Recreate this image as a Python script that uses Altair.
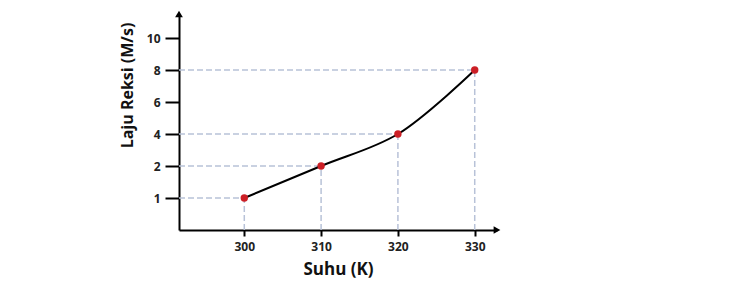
import altair as alt
import pandas as pd

# data
suhu = [300, 310, 320, 330]
laju = [1, 2, 4, 8]
y_tick_labels = [1, 2, 4, 6, 8, 10]
x_tick_values = [300, 310, 320, 330]

X_MIN, X_MAX = 291.5, 332.9
Y_MIN, Y_MAX = -1, 5.75

pos = [y_tick_labels.index(v) for v in laju]
df = pd.DataFrame({"suhu": suhu, "laju": laju, "pos": pos,
                   "x0": [X_MIN] * len(suhu), "y0": [Y_MIN] * len(suhu)})

arrows = pd.DataFrame({"x": [X_MAX, X_MIN], "y": [Y_MIN, Y_MAX],
                       "shape": ["triangle-right", "triangle-up"]})

FONT = "Open Sans"
label_expr = "[" + ",".join("'%s'" % v for v in y_tick_labels) + "][datum.value]"

xscale = alt.Scale(domain=[X_MIN, X_MAX], nice=False, zero=False)
yscale = alt.Scale(domain=[Y_MIN, Y_MAX], nice=False, zero=False)

x_axis = alt.Axis(values=x_tick_values, title="Suhu (K)", grid=False,
                  domainColor="black", domainWidth=2, tickColor="black",
                  tickWidth=2, tickSize=6, labelPadding=5,
                  labelFont=FONT, labelFontWeight="bold", labelFontSize=12,
                  labelColor="#222222", titleFont=FONT, titleFontWeight="bold",
                  titleFontSize=17, titleColor="#111111", titlePadding=9)
y_axis = alt.Axis(values=list(range(len(y_tick_labels))), labelExpr=label_expr,
                  title="Laju Reksi (M/s)", grid=False,
                  domainColor="black", domainWidth=2, tickColor="black",
                  tickWidth=2, tickSize=14, labelPadding=5,
                  labelFont=FONT, labelFontWeight="bold", labelFontSize=12,
                  labelColor="#222222", titleFont=FONT, titleFontWeight="bold",
                  titleFontSize=16, titleColor="#111111",
                  titleX=-52, titleY=71, titleAlign="center",
                  titleBaseline="middle", titleAngle=-90)

dash_color = "#b8c2d8"
hdash = alt.Chart(df).mark_rule(color=dash_color, strokeWidth=1.5,
                                strokeDash=[6, 3]).encode(
    x=alt.X("x0:Q", scale=xscale, axis=x_axis),
    x2="suhu:Q",
    y=alt.Y("pos:Q", scale=yscale, axis=y_axis),
)
vdash = alt.Chart(df).mark_rule(color=dash_color, strokeWidth=1.5,
                                strokeDash=[6, 3]).encode(
    x=alt.X("suhu:Q", scale=xscale),
    y=alt.Y("y0:Q", scale=yscale),
    y2="pos:Q",
)
line = alt.Chart(df).mark_line(color="black", strokeWidth=2,
                               interpolate="catmull-rom").encode(
    x=alt.X("suhu:Q", scale=xscale),
    y=alt.Y("pos:Q", scale=yscale),
)
points = alt.Chart(df).mark_point(filled=True, color="#cc1f26", size=55,
                                  opacity=1).encode(
    x=alt.X("suhu:Q", scale=xscale),
    y=alt.Y("pos:Q", scale=yscale),
)
arrow_marks = alt.Chart(arrows).mark_point(filled=True, color="black",
                                           size=60, opacity=1).encode(
    x=alt.X("x:Q", scale=xscale),
    y=alt.Y("y:Q", scale=yscale),
    shape=alt.Shape("shape:N", scale=None, legend=None),
)

chart = alt.layer(hdash, vdash, line, points, arrow_marks).properties(
    width=318, height=216,
    autosize=alt.AutoSizeParams(type="none"),
    padding={"left": 179, "top": 14, "right": 251, "bottom": 66},
    background="white",
).configure_view(stroke=None)

chart.save("out.html", embed_options={"renderer": "svg", "actions": False})
